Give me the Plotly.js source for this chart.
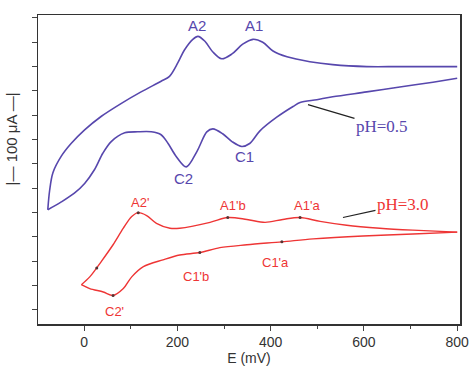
<!DOCTYPE html>
<html>
<head>
<meta charset="utf-8">
<script src="https://cdn.plot.ly/plotly-3.0.1.min.js"></script>
<style>html,body{margin:0;padding:0;background:#fff;}#chart{width:473px;height:375px;}</style>
</head>
<body>
<div id="chart"></div>
<script>
// pH = 0.5 cyclic voltammogram (E in mV, I in µA, arbitrary offset)
const ph05FwdE = [-78,-74,-67,-49,-28,1,37,79,122,165,183,201,215,233,244,259,276,295,317,340,362,383,405,435,484,533,606,677,800];
const ph05FwdI = [103,123,141,158,171,185,199,212,224,235,240,254,267,278,281,276,265,258,263,273,278,275,266,260,255,252,250,250,250];
const ph05RevE = [800,748,677,606,533,499,463,448,413,377,355,338,317,297,276,263,242,219,197,180,165,144,115,87,58,40,22,1,-21,-49,-78];
const ph05RevI = [238,234,229,224,219,216,213,209,198,184,171,168,173,181,186,183,163,147,158,171,180,183,183,182,173,161,144,130,120,111,103];
// pH = 3.0 cyclic voltammogram
const ph30FwdE = [-6,12,37,62,84,102,116,134,155,184,205,270,308,349,388,426,463,506,563,634,705,800];
const ph30FwdI = [26,34,50,67,84,96,100,97,89,84,84,90,95,93,90,93,95,91,87,84,82,80];
const ph30RevE = [800,705,598,491,424,349,291,248,205,169,127,102,84,62,41,12,-6];
const ph30RevI = [80,78,76,73,70,67,64,59,56.5,51.5,44.5,34,22,15,18.5,22,26];
// marked points on the pH = 3.0 curve
const markE = [27,116,308,463,424,248,62];
const markI = [43,100,95,95,70,59,15];
// peak labels
const labP = ['A2','A1','C2','C1'];
const labPE = [243,365,212,344];
const labPI = [292,292,135,158];
const labR = ["A2'","A1'b","A1'a","C1'b","C1'a","C2'"];
const labRE = [120,319,478,240,411,64];
const labRI = [110,107,107,34,49,-2];

const purple = '#5747ad';
const red = '#ee3535';
const sp = {shape: 'spline', smoothing: 0.9};

const traces = [
  {x: ph05FwdE, y: ph05FwdI, mode: 'lines', line: Object.assign({color: purple, width: 1.6}, sp), hoverinfo: 'skip'},
  {x: ph05RevE, y: ph05RevI, mode: 'lines', line: Object.assign({color: purple, width: 1.6}, sp), hoverinfo: 'skip'},
  {x: ph30FwdE, y: ph30FwdI, mode: 'lines', line: Object.assign({color: red, width: 1.4}, sp), hoverinfo: 'skip'},
  {x: ph30RevE, y: ph30RevI, mode: 'lines', line: Object.assign({color: red, width: 1.4}, sp), hoverinfo: 'skip'},
  {x: markE, y: markI, mode: 'markers', marker: {color: '#553333', size: 3}, hoverinfo: 'skip'}
];

const ann = [];
labP.forEach((t, i) => ann.push({x: labPE[i], y: labPI[i], text: t, showarrow: false,
  font: {family: 'Liberation Sans, Arial', size: 15, color: purple}}));
labR.forEach((t, i) => ann.push({x: labRE[i], y: labRI[i], text: t, showarrow: false,
  font: {family: 'Liberation Sans, Arial', size: 13, color: red}}));
ann.push({x: 480, y: 211, text: 'pH=0.5', showarrow: true, arrowhead: 0, arrowwidth: 1.2, arrowcolor: '#222',
  ax: 74, ay: 22, font: {family: 'Liberation Serif, Times New Roman', size: 17, color: purple}});
ann.push({x: 555, y: 95, text: 'pH=3.0', showarrow: true, arrowhead: 0, arrowwidth: 1.2, arrowcolor: '#222',
  ax: 60, ay: -13, font: {family: 'Liberation Serif, Times New Roman', size: 17, color: red}});
ann.push({xref: 'paper', yref: 'paper', x: -0.062, y: 0.6, xanchor: 'center', yanchor: 'middle',
  text: '|— 100 μA —|', textangle: -90, showarrow: false,
  font: {family: 'Liberation Sans, Arial', size: 15, color: '#333'}});

const layout = {
  width: 473, height: 375,
  margin: {l: 38, r: 13, t: 15, b: 51},
  paper_bgcolor: '#fff', plot_bgcolor: '#fff',
  showlegend: false,
  font: {family: 'Liberation Sans, Arial', size: 14, color: '#333'},
  xaxis: {range: [-99, 806], tickvals: [0,200,400,600,800], ticks: 'outside', ticklen: 5, tickwidth: 1,
    minor: {dtick: 100, tick0: 0, ticks: 'outside', ticklen: 3},
    showgrid: false, zeroline: false, showline: true, mirror: true, linecolor: '#333', linewidth: 1.5,
    tickfont: {size: 14, color: '#333'},
    title: {text: 'E (mV)', font: {size: 14, color: '#333'}, standoff: 2}},
  yaxis: {range: [-14.4, 303], tick0: 0, dtick: 25, ticks: 'outside', ticklen: 5, tickwidth: 1,
    showticklabels: false, showgrid: false, zeroline: false, showline: true, mirror: true,
    linecolor: '#333', linewidth: 1.5},
  annotations: ann
};

Plotly.newPlot('chart', traces, layout, {displayModeBar: false, staticPlot: true});
</script>
</body>
</html>
